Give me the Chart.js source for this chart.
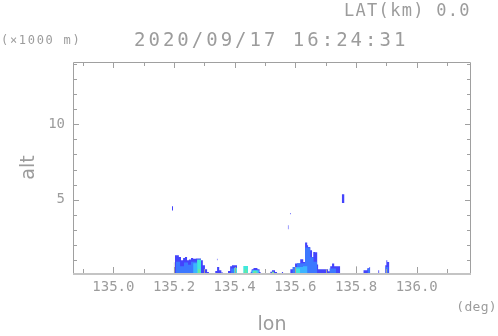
<!DOCTYPE html>
<html>
<head>
<meta charset="utf-8">
<title>RHI 2020/09/17 16:24:31</title>
<script src="https://cdn.jsdelivr.net/npm/chart.js@4.4.1/dist/chart.umd.min.js"></script>
<style>
  body { margin: 0; background: #fff; }
  #wrap { position: relative; width: 498px; height: 336px; }
  #wrap canvas { position: absolute; left: 0; top: 0; }
  .lbl { position: absolute; font-family: "DejaVu Sans Mono", monospace; color: #9c9c9c; line-height: 1; white-space: nowrap; }
</style>
</head>
<body>
<div id="wrap">
  <canvas id="rhi" width="498" height="336"></canvas>
  <div class="lbl" style="left:344px; top:2px; font-size:17px; letter-spacing:1.3px;">LAT(km) 0.0</div>
  <div class="lbl" style="left:1px; top:34px; font-size:12px; letter-spacing:1.7px;">(×1000 m)</div>
  <div class="lbl" style="left:134px; top:30px; font-size:19px; letter-spacing:3px;">2020/09/17 16:24:31</div>
  <div class="lbl" style="right:1px; top:300px; font-size:13px; letter-spacing:0.3px;">(deg)</div>
</div>
<script>
// axis ranges (lon in deg, alt in km)
const lonRange = [134.867, 136.179];
const altRange = [0.16, 14.11];

// echo profiles: each profile is a list of [lon, echo top]; the top holds until the next lon
const blueEcho = [
  [[135.203,1.33],[135.216,1.22],[135.223,1.0],[135.230,1.15],[135.236,1.22],[135.243,1.0],[135.249,1.06],[135.256,1.15],[135.263,1.1],[135.272,1.12],[135.289,1.0],[135.295,0.67],[135.302,0.40],[135.309,0.22],[135.315,0]],
  [[135.329,0.15],[135.336,0.3],[135.342,0.56],[135.349,0.35],[135.356,0.2],[135.362,0]],
  [[135.378,0.3],[135.385,0.6],[135.391,0.67],[135.408,0]],
  [[135.452,0.25],[135.456,0.4],[135.462,0.49],[135.475,0.4],[135.482,0.22],[135.486,0]],
  [[135.517,0.25],[135.523,0.34],[135.533,0.22],[135.540,0]],
  [[135.555,0.22],[135.560,0]],
  [[135.583,0.4],[135.599,0.78],[135.616,1.07],[135.626,0.89],[135.632,2.17],[135.639,1.99],[135.642,1.88],[135.649,1.66],[135.655,1.22],[135.659,1.55],[135.665,1.53],[135.672,0.72],[135.675,0.4],[135.708,0.27],[135.715,0.6],[135.721,0.78],[135.728,0.6],[135.748,0]],
  [[135.824,0.34],[135.837,0.47],[135.844,0.56],[135.847,0]],
  [[135.873,0.34],[135.877,0]],
  [[135.896,0.67],[135.900,1.0],[135.903,0.89],[135.910,0]]
];
const midEcho = [
  [[135.206,0.9],[135.220,0.6],[135.233,0.85],[135.246,0.7],[135.256,0.9],[135.276,0]],
  [[135.388,0.45],[135.402,0]],
  [[135.590,0.55],[135.605,0.8],[135.632,1.85],[135.649,1.2],[135.660,0.9],[135.672,0]],
  [[135.712,0.45],[135.735,0]],
  [[135.838,0.45],[135.846,0]],
  [[135.897,0.55],[135.907,0]]
];
const lightEcho = [
  [[135.263,0.8],[135.276,0]],
  [[135.455,0.35],[135.480,0]],
  [[135.600,0.55],[135.625,0.6],[135.640,0]]
];
const cyanEcho = [
  [[135.276,1.05],[135.289,0]],
  [[135.398,0.5],[135.408,0]],
  [[135.428,0.62],[135.444,0]],
  [[135.459,0.32],[135.476,0]],
  [[135.599,0.45],[135.616,0]]
];
const greenEcho = [
  [[135.279,0.4],[135.286,0]],
  [[135.432,0.4],[135.440,0]],
  [[135.462,0.28],[135.472,0]],
  [[135.522,0.25],[135.530,0]]
];
// isolated echoes aloft: [lon from, lon to, bottom, top]
const floatEcho = [
  [135.193, 135.197, 4.30, 4.57],
  [135.341, 135.344, 1.00, 1.10],
  [135.575, 135.578, 3.05, 3.32],
  [135.582, 135.585, 4.04, 4.12],
  [135.753, 135.762, 4.78, 5.37]
];
// terrain marks: [lon from, lon to, top]
const groundMarks = [
  [135.199, 135.202, 0.87],
  [135.800, 135.803, 0.6]
];

const palette = { blue: '#4444fc', mid: '#3c78ff', light: '#3cb4ff', cyan: '#40e8dc', green: '#6ce89c', ground: '#a8a8a8' };
const textGray = '#9c9c9c';

function layer(profiles, color, order) {
  return profiles.map(p => ({
    data: p.map(([x, y]) => ({ x, y })),
    stepped: 'before',
    fill: { value: 0 },
    backgroundColor: color,
    borderColor: 'rgba(0,0,0,0)',
    borderWidth: 0,
    pointRadius: 0,
    order: order
  }));
}

const datasets = [].concat(
  layer(blueEcho, palette.blue, 5),
  layer(midEcho, palette.mid, 4),
  layer(lightEcho, palette.light, 3),
  layer(cyanEcho, palette.cyan, 2),
  layer(greenEcho, palette.green, 1),
  floatEcho.map(([l0, l1, b, t]) => ({
    data: [{ x: l0, y: t }, { x: l1, y: t }],
    stepped: 'before', fill: { value: b },
    backgroundColor: palette.blue, borderColor: 'rgba(0,0,0,0)', borderWidth: 0, pointRadius: 0, order: 0
  })),
  groundMarks.map(([l0, l1, t]) => ({
    data: [{ x: l0, y: t }, { x: l1, y: t }],
    stepped: 'before', fill: { value: 0 },
    backgroundColor: palette.ground, borderColor: 'rgba(0,0,0,0)', borderWidth: 0, pointRadius: 0, order: 0
  }))
);

function isMajorLon(v) { return Math.round(v * 10) % 2 === 0; }
function isMajorAlt(v) { return Math.round(v) % 5 === 0; }

// frame with inward tick marks on all four sides
const frameTicks = {
  id: 'frameTicks',
  afterDraw(chart) {
    const { ctx, chartArea: a, scales } = chart;
    ctx.save();
    ctx.strokeStyle = '#a0a0a0';
    ctx.lineWidth = 1;
    ctx.beginPath();
    ctx.moveTo(a.left + 0.5, a.bottom); ctx.lineTo(a.left + 0.5, a.top + 0.5);
    ctx.lineTo(a.right - 0.5, a.top + 0.5); ctx.lineTo(a.right - 0.5, a.bottom);
    scales.x.ticks.forEach(t => {
      const px = Math.round(scales.x.getPixelForValue(t.value)) + 0.5;
      const len = isMajorLon(t.value) ? 6 : 4;
      ctx.moveTo(px, a.bottom); ctx.lineTo(px, a.bottom - len);
      ctx.moveTo(px, a.top); ctx.lineTo(px, a.top + len);
    });
    scales.y.ticks.forEach(t => {
      const py = Math.round(scales.y.getPixelForValue(t.value)) + 0.5;
      const len = isMajorAlt(t.value) ? 6 : 4;
      ctx.moveTo(a.left, py); ctx.lineTo(a.left + len, py);
      ctx.moveTo(a.right, py); ctx.lineTo(a.right - len, py);
    });
    ctx.stroke();
    ctx.strokeStyle = '#c4c4c4';
    ctx.lineWidth = 2;
    ctx.beginPath();
    ctx.moveTo(a.left, a.bottom + 1); ctx.lineTo(a.right, a.bottom + 1);
    ctx.stroke();
    ctx.restore();
  }
};

new Chart(document.getElementById('rhi'), {
  type: 'line',
  data: { datasets: datasets },
  options: {
    responsive: false,
    animation: false,
    layout: { padding: { top: 62, right: 27, left: 0, bottom: 0 } },
    plugins: { legend: { display: false }, tooltip: { enabled: false }, title: { display: false } },
    scales: {
      x: {
        type: 'linear',
        min: lonRange[0], max: lonRange[1],
        afterFit(s) { s.height = 63; },
        grid: { display: false, drawTicks: false },
        border: { display: false },
        ticks: {
          stepSize: 0.1, includeBounds: false, autoSkip: false, maxRotation: 0, padding: 6,
          color: textGray, font: { family: 'DejaVu Sans Mono', size: 14 },
          callback: v => isMajorLon(v) ? v.toFixed(1) : ''
        },
        title: { display: true, text: 'lon', color: textGray, font: { family: 'DejaVu Sans', size: 19 }, padding: { top: 0, bottom: 0 } }
      },
      y: {
        type: 'linear',
        min: altRange[0], max: altRange[1],
        afterFit(s) { s.width = 73; },
        grid: { display: false, drawTicks: false },
        border: { display: false },
        ticks: {
          stepSize: 1, includeBounds: false, autoSkip: false, padding: 8,
          color: textGray, font: { family: 'DejaVu Sans Mono', size: 14 },
          callback: v => isMajorAlt(v) ? String(Math.round(v)) : ''
        },
        title: { display: true, text: 'alt', color: textGray, font: { family: 'DejaVu Sans', size: 19 }, padding: { top: 18, bottom: 0 } }
      }
    }
  },
  plugins: [frameTicks]
});
</script>
</body>
</html>
